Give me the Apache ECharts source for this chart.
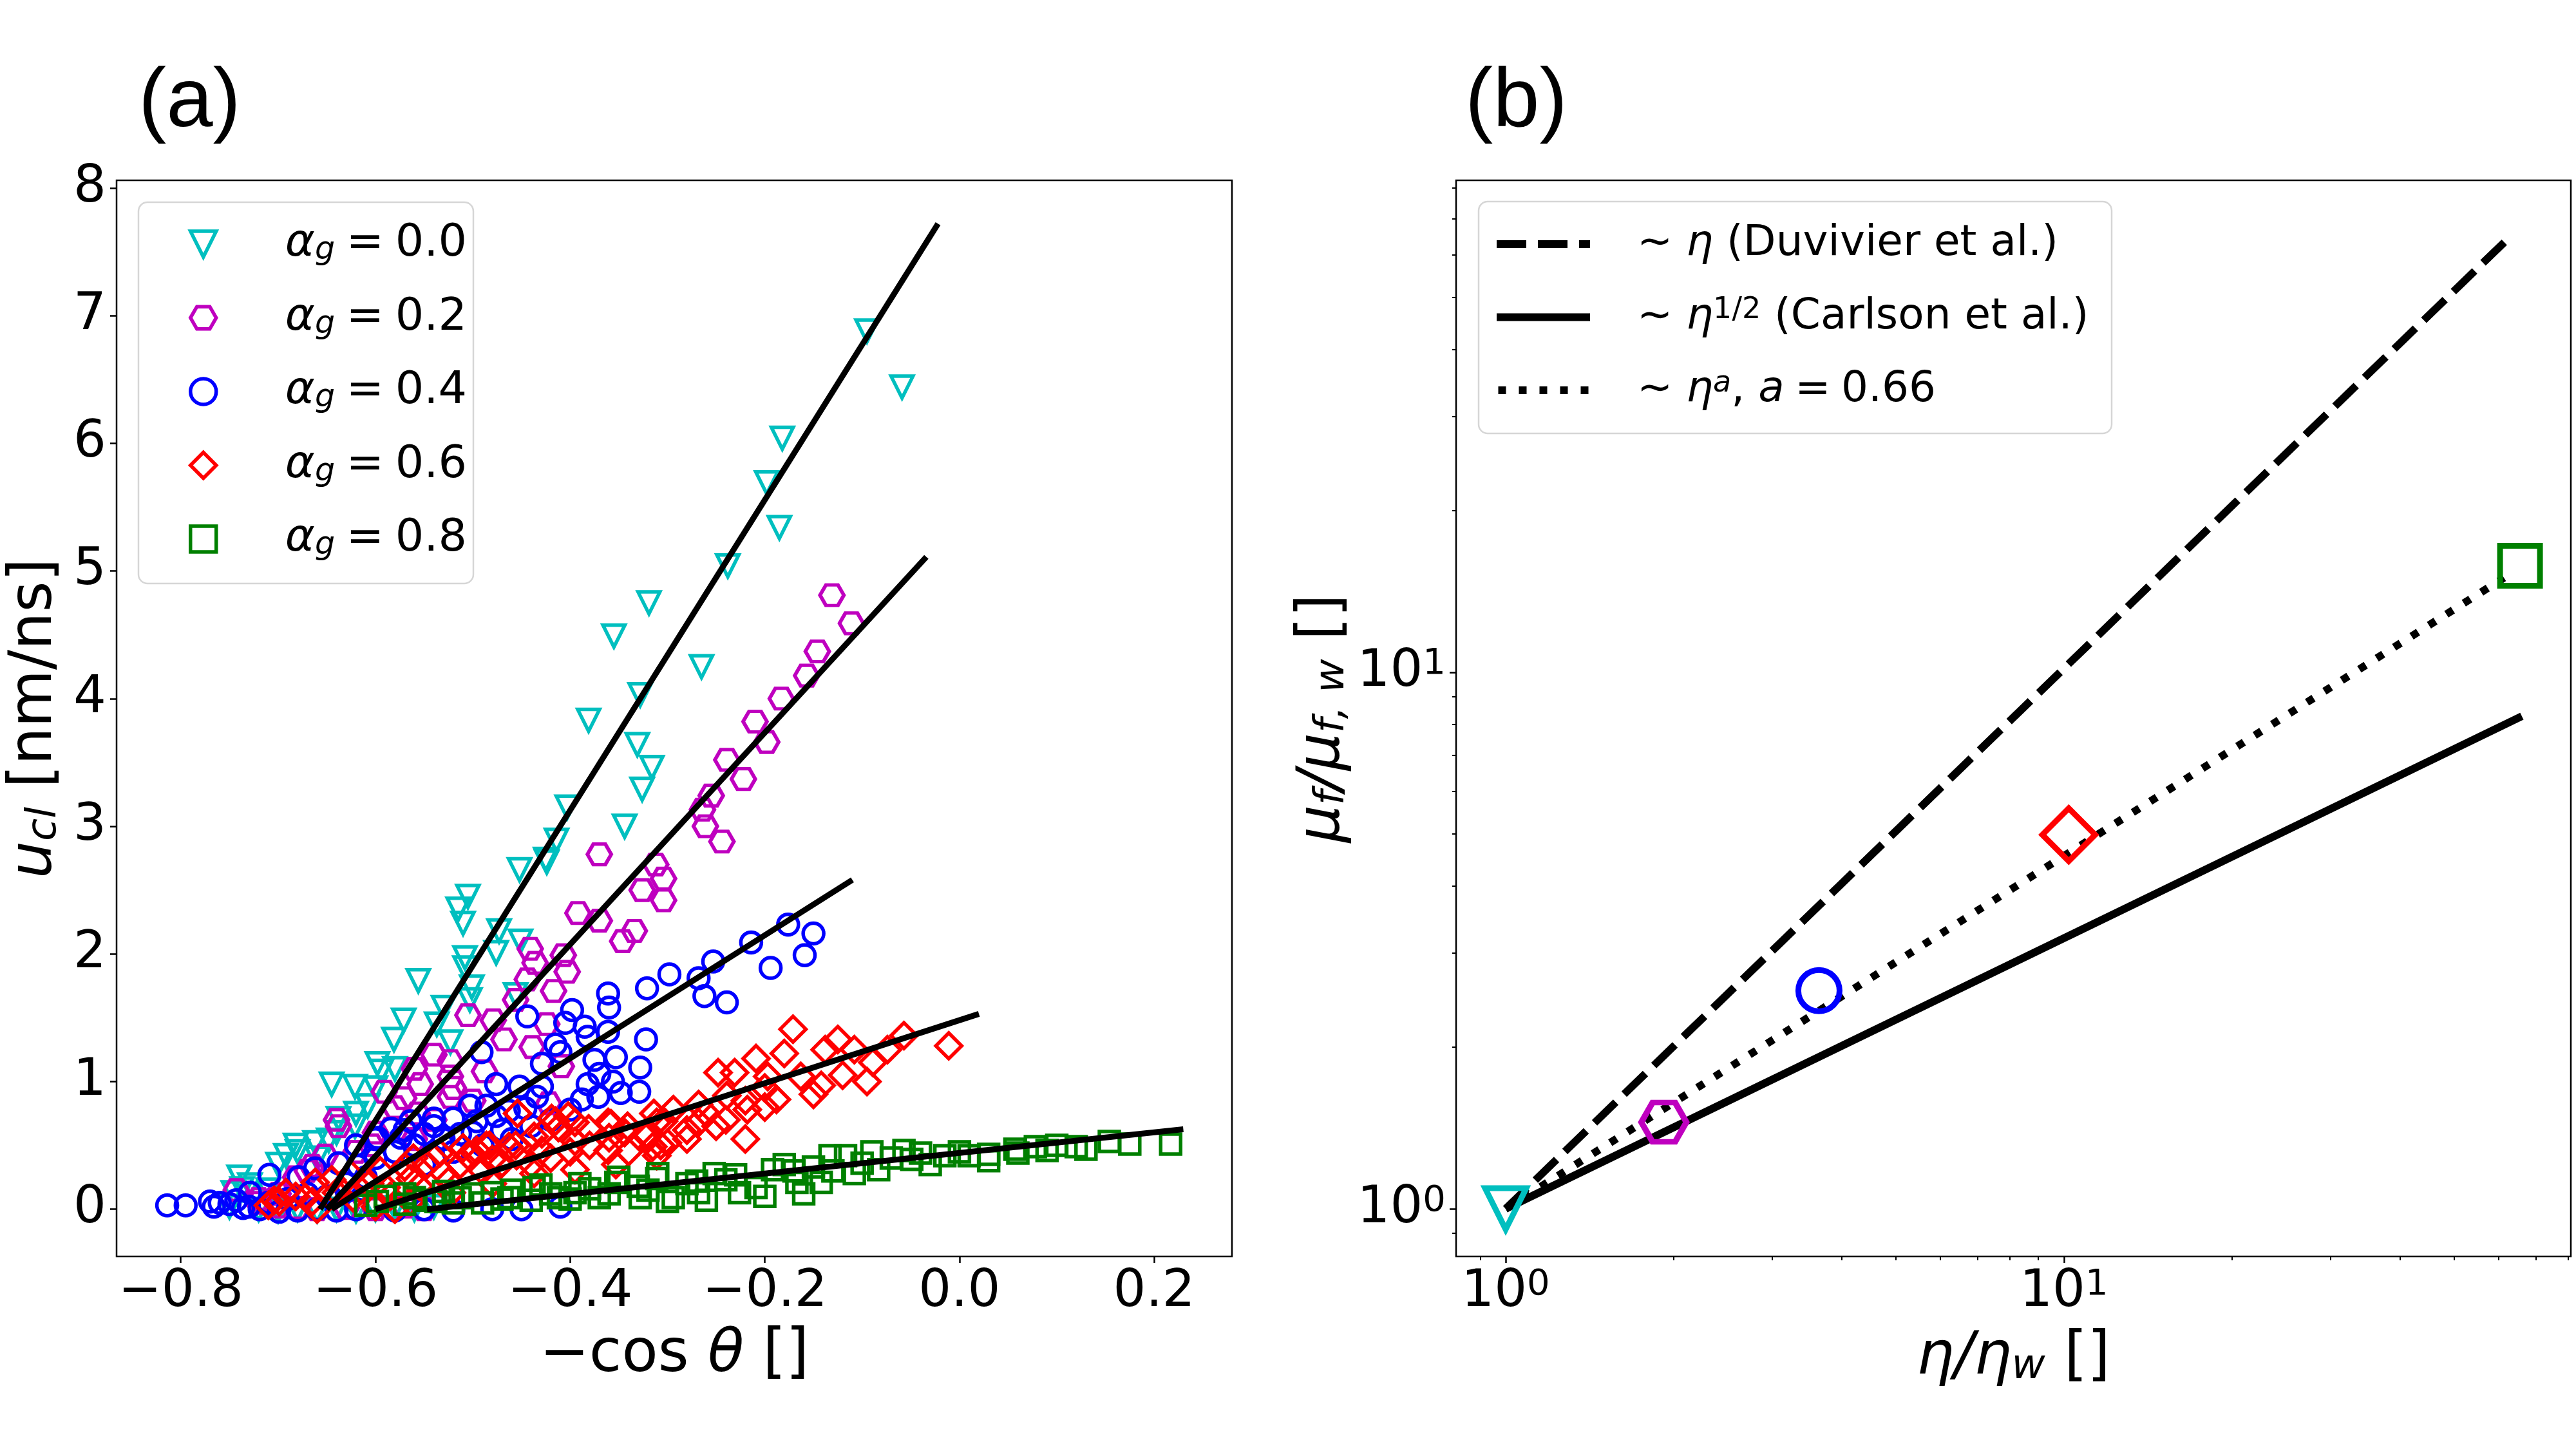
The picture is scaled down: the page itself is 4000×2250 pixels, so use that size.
<!DOCTYPE html>
<html>
<head>
<meta charset="utf-8">
<script src="https://cdn.jsdelivr.net/npm/echarts@6/dist/echarts.min.js"></script>
<style>
    html, body {margin: 0; padding: 0; background: #fff;}
    #chart {width: 4000px; height: 2250px;}
</style>
</head>
<body>
<div id="chart"></div>
<script>
// (a) contact line speed vs -cos(theta), [x, y]
var ag00 = [[-0.095, 6.88], [-0.059, 6.44], [-0.182, 6.04], [-0.198, 5.69], [-0.185, 5.34], [-0.238, 5.04], [-0.319, 4.75],
    [-0.355, 4.49], [-0.265, 4.25], [-0.328, 4.03], [-0.381, 3.83], [-0.331, 3.64], [-0.316, 3.46], [-0.326, 3.29],
    [-0.344, 3.00], [-0.403, 3.15], [-0.414, 2.89], [-0.425, 2.74], [-0.452, 2.66], [-0.424, 2.72], [-0.505, 2.45],
    [-0.515, 2.35], [-0.510, 2.24], [-0.473, 2.18], [-0.451, 2.10], [-0.476, 2.01], [-0.508, 1.97], [-0.508, 1.89],
    [-0.556, 1.79], [-0.501, 1.74], [-0.503, 1.64], [-0.456, 1.68], [-0.530, 1.58], [-0.571, 1.48], [-0.537, 1.45],
    [-0.581, 1.33], [-0.523, 1.31], [-0.598, 1.14], [-0.594, 1.08], [-0.645, 0.98], [-0.621, 0.96], [-0.608, 0.81],
    [-0.638, 0.71], [-0.621, 0.65], [-0.692, 0.42], [-0.682, 0.50], [-0.662, 0.52], [-0.648, 0.54], [-0.729, 0.19],
    [-0.746, 0.13], [-0.737, 0.16], [-0.750, 0.02], [-0.720, 0.00], [-0.700, -0.01], [-0.680, 0.00], [-0.660, -0.01],
    [-0.640, 0.00], [-0.620, -0.01], [-0.600, 0.00], [-0.580, 0.01], [-0.560, 0.00], [-0.540, 0.02],
    [-0.700, 0.35], [-0.680, 0.45], [-0.660, 0.40], [-0.640, 0.60], [-0.620, 0.75], [-0.600, 0.95], [-0.580, 1.10],
    [-0.740, 0.25], [-0.710, 0.15]];
var ag02 = [[-0.131, 4.81], [-0.111, 4.59], [-0.146, 4.37], [-0.157, 4.18], [-0.183, 4.00], [-0.210, 3.82], [-0.198, 3.66],
    [-0.239, 3.52], [-0.222, 3.37], [-0.255, 3.24], [-0.264, 3.13], [-0.261, 3.00], [-0.244, 2.88], [-0.370, 2.78],
    [-0.312, 2.70], [-0.304, 2.59], [-0.326, 2.50], [-0.304, 2.42], [-0.392, 2.32], [-0.370, 2.26], [-0.334, 2.18],
    [-0.346, 2.10], [-0.441, 2.04], [-0.407, 1.99], [-0.436, 1.93], [-0.403, 1.86], [-0.444, 1.80], [-0.417, 1.71],
    [-0.456, 1.64], [-0.479, 1.48], [-0.505, 1.52], [-0.424, 1.45], [-0.468, 1.33], [-0.439, 1.27], [-0.540, 1.21],
    [-0.523, 1.16], [-0.488, 1.08], [-0.409, 1.12], [-0.523, 1.04], [-0.560, 1.10], [-0.591, 0.92], [-0.571, 0.87],
    [-0.554, 0.98], [-0.422, 0.83], [-0.638, 0.65], [-0.523, 0.88], [-0.557, 0.75], [-0.584, 0.63], [-0.604, 0.50],
    [-0.652, 0.42], [-0.665, 0.34], [-0.743, 0.15], [-0.682, 0.25], [-0.720, 0.05], [-0.700, 0.02], [-0.680, 0.01],
    [-0.660, 0.00], [-0.630, 0.01], [-0.600, 0.00], [-0.570, 0.02], [-0.550, 0.00],
    [-0.640, 0.70], [-0.620, 0.45], [-0.600, 0.60], [-0.580, 0.80], [-0.560, 0.55], [-0.540, 0.70], [-0.520, 0.95],
    [-0.500, 0.85], [-0.670, 0.30], [-0.700, 0.12], [-0.720, 0.08]];
var ag04 = [[-0.176, 2.23], [-0.150, 2.16], [-0.159, 1.99], [-0.194, 1.89], [-0.214, 2.09], [-0.253, 1.94], [-0.268, 1.81],
    [-0.239, 1.62], [-0.262, 1.67], [-0.298, 1.84], [-0.321, 1.73], [-0.322, 1.33], [-0.361, 1.69], [-0.360, 1.58],
    [-0.398, 1.56], [-0.444, 1.51], [-0.405, 1.46], [-0.385, 1.43], [-0.382, 1.35], [-0.361, 1.39], [-0.415, 1.29],
    [-0.410, 1.23], [-0.491, 1.23], [-0.429, 1.14], [-0.375, 1.17], [-0.353, 1.19], [-0.328, 1.11], [-0.370, 1.06],
    [-0.356, 1.00], [-0.382, 0.98], [-0.388, 0.86], [-0.371, 0.88], [-0.348, 0.91], [-0.329, 0.92], [-0.476, 0.98],
    [-0.452, 0.96], [-0.429, 0.96], [-0.434, 0.88], [-0.446, 0.79], [-0.463, 0.77], [-0.486, 0.81], [-0.503, 0.81],
    [-0.476, 0.73], [-0.496, 0.69], [-0.520, 0.71], [-0.540, 0.71], [-0.564, 0.69], [-0.584, 0.63], [-0.598, 0.56],
    [-0.574, 0.56], [-0.550, 0.59], [-0.513, 0.59], [-0.618, 0.34], [-0.638, 0.36], [-0.662, 0.32], [-0.679, 0.25],
    [-0.709, 0.27], [-0.729, 0.13], [-0.743, 0.07], [-0.760, 0.05], [-0.736, 0.01], [-0.766, 0.02], [-0.795, 0.03],
    [-0.814, 0.03], [-0.719, 0.00], [-0.699, -0.02], [-0.680, -0.01], [-0.660, 0.00], [-0.640, -0.01], [-0.620, 0.00],
    [-0.580, -0.01], [-0.550, 0.00], [-0.520, -0.01], [-0.480, 0.00], [-0.450, 0.00], [-0.410, 0.02],
    [-0.770, 0.06], [-0.750, 0.04], [-0.730, 0.02], [-0.710, 0.05], [-0.690, 0.08], [-0.670, 0.12], [-0.650, 0.10],
    [-0.630, 0.20], [-0.610, 0.25], [-0.600, 0.40], [-0.580, 0.45], [-0.560, 0.50], [-0.550, 0.35], [-0.530, 0.55],
    [-0.520, 0.45], [-0.500, 0.60], [-0.490, 0.50], [-0.470, 0.62], [-0.460, 0.55], [-0.440, 0.65], [-0.420, 0.70],
    [-0.400, 0.78], [-0.600, 0.55], [-0.620, 0.50], [-0.570, 0.62], [-0.540, 0.65]];
var ag06 = [[-0.011, 1.28], [-0.057, 1.36], [-0.074, 1.25], [-0.095, 1.00], [-0.089, 1.15], [-0.108, 1.25], [-0.125, 1.33],
    [-0.138, 1.25], [-0.142, 0.97], [-0.171, 1.41], [-0.180, 1.22], [-0.163, 1.04], [-0.188, 0.86], [-0.209, 1.18],
    [-0.218, 0.78], [-0.197, 1.04], [-0.231, 1.07], [-0.248, 1.07], [-0.239, 0.89], [-0.268, 0.82], [-0.268, 0.68],
    [-0.294, 0.78], [-0.311, 0.68], [-0.315, 0.49], [-0.344, 0.60], [-0.361, 0.68], [-0.361, 0.46], [-0.395, 0.68],
    [-0.395, 0.53], [-0.412, 0.64], [-0.437, 0.57], [-0.429, 0.46], [-0.463, 0.49], [-0.480, 0.39], [-0.496, 0.46],
    [-0.513, 0.35], [-0.530, 0.28], [-0.547, 0.35], [-0.564, 0.24], [-0.589, 0.17], [-0.606, 0.20], [-0.623, 0.09],
    [-0.640, 0.13], [-0.665, 0.06], [-0.682, 0.10], [-0.699, 0.06], [-0.454, 0.75], [-0.395, 0.31], [-0.353, 0.35],
    [-0.311, 0.42], [-0.437, 0.28], [-0.522, 0.13], [-0.480, 0.20], [-0.564, 0.06], [-0.402, 0.73], [-0.415, 0.69],
    [-0.341, 0.65], [-0.314, 0.75], [-0.486, 0.50], [-0.429, 0.59], [-0.600, 0.02], [-0.660, 0.00], [-0.710, 0.03],
    [-0.580, 0.00], [-0.250, 0.65], [-0.220, 0.55], [-0.280, 0.55], [-0.150, 0.90], [-0.120, 1.05], [-0.200, 0.95],
    [-0.704, 0.07], [-0.692, 0.13], [-0.672, 0.09], [-0.662, 0.21], [-0.645, 0.23], [-0.625, 0.27], [-0.615, 0.15],
    [-0.595, 0.30], [-0.585, 0.10], [-0.570, 0.33], [-0.555, 0.18], [-0.540, 0.40], [-0.525, 0.22], [-0.505, 0.42],
    [-0.490, 0.30], [-0.470, 0.36], [-0.455, 0.42], [-0.440, 0.35], [-0.420, 0.40], [-0.400, 0.45], [-0.380, 0.50],
    [-0.360, 0.56], [-0.340, 0.45], [-0.320, 0.58], [-0.300, 0.52], [-0.280, 0.62], [-0.260, 0.75], [-0.240, 0.70],
    [-0.220, 0.85], [-0.200, 0.80], [-0.419, 0.71], [-0.381, 0.63], [-0.358, 0.67], [-0.321, 0.57], [-0.307, 0.50],
    [-0.304, 0.69], [-0.483, 0.50], [-0.456, 0.50], [-0.510, 0.48], [-0.534, 0.44], [-0.561, 0.40]];
var ag08 = [[0.217, 0.51], [0.175, 0.51], [0.154, 0.53], [0.120, 0.49], [0.100, 0.50], [0.078, 0.49], [0.057, 0.47],
    [0.010, 0.42], [-0.015, 0.42], [-0.049, 0.39], [-0.057, 0.46], [-0.083, 0.31], [-0.108, 0.28], [-0.117, 0.42],
    [-0.133, 0.42], [-0.142, 0.21], [-0.167, 0.21], [-0.192, 0.31], [-0.209, 0.17], [-0.226, 0.13], [-0.252, 0.28],
    [-0.268, 0.13], [-0.294, 0.09], [-0.311, 0.24], [-0.328, 0.09], [-0.353, 0.21], [-0.370, 0.09], [-0.395, 0.13],
    [-0.412, 0.09], [-0.437, 0.17], [-0.463, 0.09], [-0.480, 0.13], [-0.513, 0.09], [-0.538, 0.06], [-0.560, 0.09],
    [-0.598, 0.06], [-0.090, 0.45], [-0.150, 0.33], [-0.240, 0.23], [-0.170, 0.30], [-0.040, 0.44], [-0.280, 0.20],
    [-0.330, 0.18], [-0.380, 0.16], [-0.420, 0.12], [-0.470, 0.08], [-0.520, 0.05], [-0.570, 0.04], [-0.610, 0.03],
    [-0.590, 0.10], [-0.570, 0.12], [-0.550, 0.07], [-0.530, 0.14], [-0.500, 0.12], [-0.490, 0.05], [-0.460, 0.15],
    [-0.440, 0.07], [-0.430, 0.19], [-0.400, 0.08], [-0.390, 0.20], [-0.360, 0.12], [-0.350, 0.25], [-0.320, 0.15],
    [-0.310, 0.28], [-0.300, 0.06], [-0.270, 0.22], [-0.260, 0.07], [-0.230, 0.27], [-0.200, 0.10], [-0.180, 0.35],
    [-0.160, 0.12], [-0.130, 0.30], [-0.100, 0.36], [-0.070, 0.40], [-0.030, 0.35], [0.000, 0.45], [0.030, 0.43],
    [0.060, 0.44], [0.090, 0.46], [0.130, 0.47], [0.030, 0.38]];

// (a) linear fits, end points
var fit00 = [[-0.657, 0], [-0.022, 7.72]];
var fit02 = [[-0.650, 0], [-0.034, 5.11]];
var fit04 = [[-0.645, 0], [-0.110, 2.58]];
var fit06 = [[-0.600, 0], [0.020, 1.53]];
var fit08 = [[-0.547, 0], [0.230, 0.626]];

// (b) friction ratio vs viscosity ratio
var etaRatio = [1, 1.92, 3.64, 10.2, 65.6];
var muRatio = [1, 1.45, 2.55, 4.98, 15.8];
var lawDuvivier = [[1, 1], [63.3, 65.2]];
var lawCarlson = [[1, 1], [66.1, 8.28]];
var lawFit = [[1, 1], [61.4, 15.0]];

// ticks
var xTicksA = [-0.8, -0.6, -0.4, -0.2, 0.0, 0.2];
var yTicksA = [0, 1, 2, 3, 4, 5, 6, 7, 8];
var logMajor = [1, 10];
var logMinor = [0.9, 2, 3, 4, 5, 6, 7, 8, 9, 20, 30, 40, 50, 60, 70, 80];

var alphaNames = ['α_g = 0.0', 'α_g = 0.2', 'α_g = 0.4', 'α_g = 0.6', 'α_g = 0.8'];
var lawNames = ['Duvivier', 'Carlson', 'Fit'];

var FONT = 'DejaVu Sans';
var lg = function (v) { return Math.log10(v); };
var lgPt = function (p) { return [lg(p[0]), lg(p[1])]; };

var hexPath = 'path://M0,43.3 L25,0 L75,0 L100,43.3 L75,86.6 L25,86.6 Z';
var markA = [
    {data: ag00, color: '#00bfbf', symbol: 'triangle', size: 34, rot: 180, fit: fit00},
    {data: ag02, color: '#bf00bf', symbol: hexPath, size: [37, 32], rot: 0, fit: fit02},
    {data: ag04, color: '#0000ff', symbol: 'circle', size: 32, rot: 0, fit: fit04},
    {data: ag06, color: '#ff0000', symbol: 'diamond', size: 40, rot: 0, fit: fit06},
    {data: ag08, color: '#008000', symbol: 'rect', size: 31, rot: 0, fit: fit08}
];
var sizeB = [64, [70, 61], 64, 82, 62];
// legend icons (down triangle, line samples)
var iconA = ['path://M0,0 L100,0 L50,100 Z', hexPath, 'circle', 'diamond', 'rect'];
var iconB = [
    'path://M0,0 h46 v12 h-46 Z M64,0 h46 v12 h-46 Z M128,0 h17 v12 h-17 Z',
    'path://M0,0 h145 v12 h-145 Z',
    'path://M0,0 h12 v12 h-12 Z M32,0 h12 v12 h-12 Z M64,0 h12 v12 h-12 Z M96,0 h12 v12 h-12 Z M128,0 h12 v12 h-12 Z'
];

var mathRich = function (fs) {
    return {
        n: {fontFamily: FONT, fontSize: fs, lineHeight: fs, color: '#000'},
        i: {fontFamily: FONT, fontSize: fs, lineHeight: fs, fontStyle: 'italic', color: '#000'},
        s: {fontFamily: FONT, fontSize: Math.round(fs * 0.7), lineHeight: Math.round(fs * 0.57), fontStyle: 'italic',
            verticalAlign: 'bottom', color: '#000'},
        p: {fontFamily: FONT, fontSize: Math.round(fs * 0.7), lineHeight: Math.round(fs * 0.36), fontStyle: 'italic',
            verticalAlign: 'top', color: '#000'},
        q: {fontFamily: FONT, fontSize: Math.round(fs * 0.7), lineHeight: Math.round(fs * 0.36),
            verticalAlign: 'top', color: '#000'}
    };
};

var series = [];
for (let k = 0; k < markA.length; k++) {
    series.push({
        name: alphaNames[k],
        type: 'scatter',
        xAxisIndex: 0, yAxisIndex: 0,
        data: markA[k].data,
        symbol: markA[k].symbol,
        symbolSize: markA[k].size,
        symbolRotate: markA[k].rot,
        itemStyle: {color: 'rgba(0,0,0,0)', borderColor: markA[k].color, borderWidth: 5.5, opacity: 1},
        silent: true
    });
}
for (let k = 0; k < markA.length; k++) {
    series.push({
        name: 'fit' + k,
        type: 'line',
        xAxisIndex: 0, yAxisIndex: 0,
        data: markA[k].fit,
        symbol: 'none',
        lineStyle: {color: '#000', width: 9},
        z: 3,
        silent: true
    });
}
// (b) power laws
var lawData = [lawDuvivier, lawCarlson, lawFit];
var lawDash = [[46, 18], 'solid', [12, 20]];
for (let k = 0; k < lawData.length; k++) {
    series.push({
        name: lawNames[k],
        type: 'line',
        xAxisIndex: 1, yAxisIndex: 1,
        data: lawData[k].map(lgPt),
        symbol: 'none',
        itemStyle: {color: '#000'},
        lineStyle: {color: '#000', width: 12, type: lawDash[k], cap: 'butt'},
        silent: true
    });
}
for (let k = 0; k < etaRatio.length; k++) {
    series.push({
        name: 'b' + k,
        type: 'scatter',
        xAxisIndex: 1, yAxisIndex: 1,
        data: [[lg(etaRatio[k]), lg(muRatio[k])]],
        symbol: markA[k].symbol,
        symbolSize: sizeB[k],
        symbolRotate: markA[k].rot,
        itemStyle: {color: 'rgba(0,0,0,0)', borderColor: markA[k].color, borderWidth: 9, opacity: 1},
        z: 4,
        silent: true
    });
}

var tickFmtA = function (v) {
    return (v < 0 ? '\u2212' : '') + Math.abs(v).toFixed(1);
};
var logFmt = function (v) {
    return '{n|10}{q|' + Math.round(v) + '}';
};

var labelA = {color: '#000', fontFamily: FONT, fontSize: 80, margin: 16};
var labelB = {color: '#000', fontFamily: FONT, fontSize: 80, margin: 16, formatter: logFmt, rich: mathRich(80)};

var legendTextA = {};
alphaNames.forEach(function (n) {
    legendTextA[n] = '{i|α}{s|g}{n|\u2005=\u2005' + n.slice(-3) + '}';
});
var legendTextB = {
    Duvivier: '{n|∼ }{i|η}{n| (Duvivier et al.)}',
    Carlson: '{n|∼ }{i|η}{q|1/2}{n| (Carlson et al.)}',
    Fit: '{n|∼ }{i|η}{p|a}{n|, }{i|a}{n|\u2005=\u20050.66}'
};

var noZero = {show: false, onZero: false};
var option = {
    animation: false,
    backgroundColor: '#fff',
    title: [
        {text: '(a)', left: 210, top: 90, textStyle: {fontFamily: 'Liberation Sans', fontWeight: 'normal', fontSize: 130, color: '#000'}},
        {text: '(b)', left: 2270, top: 90, textStyle: {fontFamily: 'Liberation Sans', fontWeight: 'normal', fontSize: 130, color: '#000'}}
    ],
    grid: [
        {left: 181, right: 2087, top: 280, bottom: 299, show: true, borderColor: '#000', borderWidth: 2.5, containLabel: false},
        {left: 2261, right: 8, top: 280, bottom: 299, show: true, borderColor: '#000', borderWidth: 2.5, containLabel: false}
    ],
    xAxis: [
        {
            type: 'value', gridIndex: 0, min: -0.866, max: 0.28, position: 'bottom',
            axisLine: noZero, splitLine: {show: false},
            axisTick: {length: 10, lineStyle: {color: '#000', width: 2.5}, customValues: xTicksA},
            axisLabel: Object.assign({customValues: xTicksA, formatter: tickFmtA}, labelA),
            name: '{n|\u2212cos}{i| θ}{n| []}', nameLocation: 'middle', nameGap: 108,
            nameTextStyle: {rich: mathRich(92)}
        },
        {
            type: 'value', gridIndex: 1, min: lg(0.815), max: lg(80.9), position: 'bottom',
            axisLine: noZero, splitLine: {show: false},
            axisTick: {length: 10, lineStyle: {color: '#000', width: 2.5}, customValues: logMajor.map(lg)},
            axisLabel: Object.assign({customValues: logMajor.map(lg)}, labelB),
            name: '{i|η/η}{s|w}{n| []}', nameLocation: 'middle', nameGap: 112,
            nameTextStyle: {rich: mathRich(92)}
        },
        {
            type: 'value', gridIndex: 1, min: lg(0.815), max: lg(80.9), position: 'bottom',
            axisLine: noZero, splitLine: {show: false}, axisLabel: {show: false},
            axisTick: {length: 6, lineStyle: {color: '#000', width: 2}, customValues: logMinor.map(lg)}
        }
    ],
    yAxis: [
        {
            type: 'value', gridIndex: 0, min: -0.37, max: 8.06, position: 'left',
            axisLine: noZero, splitLine: {show: false},
            axisTick: {length: 10, lineStyle: {color: '#000', width: 2.5}, customValues: yTicksA},
            axisLabel: Object.assign({customValues: yTicksA}, labelA),
            name: '{i|u}{s|cl}{n| [nm/ns]}', nameLocation: 'middle', nameGap: 80, nameRotate: 90,
            nameTextStyle: {rich: mathRich(92)}
        },
        {
            type: 'value', gridIndex: 1, min: lg(0.815), max: lg(82.6), position: 'left',
            axisLine: noZero, splitLine: {show: false},
            axisTick: {length: 10, lineStyle: {color: '#000', width: 2.5}, customValues: logMajor.map(lg)},
            axisLabel: Object.assign({customValues: logMajor.map(lg)}, labelB),
            name: '{i|μ}{s|f}{i|/μ}{s|f, w}{n| []}', nameLocation: 'middle', nameGap: 160, nameRotate: 90,
            nameTextStyle: {rich: mathRich(92)}
        },
        {
            type: 'value', gridIndex: 1, min: lg(0.815), max: lg(82.6), position: 'left',
            axisLine: noZero, splitLine: {show: false}, axisLabel: {show: false},
            axisTick: {length: 6, lineStyle: {color: '#000', width: 2}, customValues: logMinor.map(lg)}
        }
    ],
    legend: [
        {
            data: alphaNames.map(function (n, k) {
                return {name: n, icon: iconA[k],
                    itemStyle: {color: 'rgba(0,0,0,0)', borderColor: markA[k].color, borderWidth: 5.5, opacity: 1}};
            }),
            orient: 'vertical', left: 288, top: 339,
            itemWidth: 40, itemHeight: 40, itemGap: 44.5,
            selectedMode: false,
            formatter: function (n) { return legendTextA[n]; },
            textStyle: {padding: [0, 0, 0, 102], rich: mathRich(70)}
        },
        {
            data: lawNames.map(function (n, k) { return {name: n, icon: iconB[k], itemStyle: {color: '#000', borderWidth: 0}}; }),
            orient: 'vertical', left: 2319, top: 341,
            itemWidth: 145, itemHeight: 12, itemGap: 47.5,
            selectedMode: false,
            formatter: function (n) { return legendTextB[n]; },
            textStyle: {padding: [0, 0, 0, 68], rich: mathRich(66)}
        }
    ],
    graphic: [
        {type: 'rect', z: 3, shape: {x: 215, y: 314, width: 520, height: 592, r: 14},
            style: {fill: 'rgba(255,255,255,0.8)', stroke: '#d6d6d6', lineWidth: 2.5}},
        {type: 'rect', z: 3, shape: {x: 2296, y: 313, width: 983, height: 360, r: 14},
            style: {fill: 'rgba(255,255,255,0.8)', stroke: '#d6d6d6', lineWidth: 2.5}}
    ],
    series: series
};

var myChart = echarts.init(document.getElementById('chart'));
myChart.setOption(option);
</script>
</body>
</html>
